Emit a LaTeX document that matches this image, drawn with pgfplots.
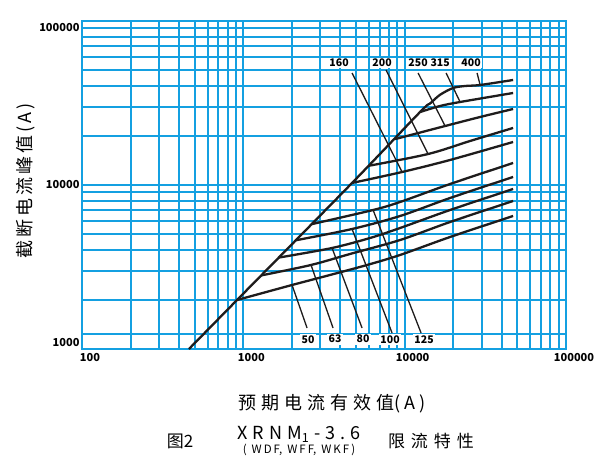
\documentclass[border=0pt]{standalone}
\usepackage{fontspec}
\setmainfont{Noto Sans CJK SC}
\usepackage{pgfplots}
\pgfplotsset{compat=1.18}
\definecolor{gridblue}{RGB}{20,160,225}
\definecolor{ink}{RGB}{30,28,28}
\begin{document}
\begin{tikzpicture}[x=1pt,y=1pt]
\path[use as bounding box] (0,0) rectangle (600,475);
\fill[white] (0,0) rectangle (600,475);
\begin{axis}[
  at={(82pt,126pt)}, anchor=south west, scale only axis,
  width=484pt, height=328pt,
  xmode=log, ymode=log,
  xmin=100, xmax=100000, ymin=1000, ymax=100000,
  xtick={100,200,300,400,500,600,700,800,900,1000,2000,3000,4000,5000,6000,7000,8000,9000,10000,20000,30000,40000,50000,60000,70000,80000,90000,100000},
  xticklabels={100,,,,,,,,,1000,,,,,,,,,10000,,,,,,,,,100000},
  ytick={1000,2000,3000,4000,5000,6000,7000,8000,9000,10000,20000,30000,40000,50000,60000,70000,80000,90000,100000},
  yticklabels={{\raisebox{2pt}[0pt][0pt]{1000}},,,,,,,,,{\raisebox{-3.6pt}[0pt][0pt]{10000}},,,,,,,,,{\raisebox{-11pt}[0pt][0pt]{100000}}},
  extra y ticks={1234}, extra y tick labels={},
  extra y tick style={grid=major, major tick length=0pt},
  xmajorgrids, ymajorgrids,
  major grid style={draw=gridblue, line width=2pt},
  major tick length=0pt, minor tick length=0pt,
  axis line style={draw=gridblue, line width=2pt},
  xticklabel style={font=\fontsize{11}{11}\selectfont\bfseries, xshift=8pt, yshift=-1pt},
  yticklabel style={font=\fontsize{11}{11}\selectfont\bfseries, xshift=1pt},
  clip=false,
  every axis plot/.append style={draw=ink, no markers},
]
% envelope / 400
\addplot[line width=2.3pt, smooth] coordinates {(460,1000) (914,1990) (4720,10290) (12460,27870) (14370,31400) (16580,35500) (19960,39040) (23690,40150) (29350,40720) (46990,43680)};
% 315
\addplot[line width=2.3pt, smooth] coordinates {(12460,27870) (16580,30330) (22060,32070) (46990,36390)};
% 250
\addplot[line width=2.3pt, smooth] coordinates {(8720,19050) (17810,22890) (29350,25980) (46990,29070)};
% 200
\addplot[line width=2.3pt, smooth] coordinates {(6000,13100) (13968,15450) (25440,18550) (46990,22270)};
% 160
\addplot[line width=2.3pt, smooth] coordinates {(4720,10290) (9636,12000) (19120,14210) (46990,18290)};
% 125
\addplot[line width=2.3pt, smooth] coordinates {(2650,5770) (6371,7040) (9366,7877) (19120,10140) (46990,13620)};
% 100
\addplot[line width=2.3pt, smooth] coordinates {(2110,4600) (4720,5391) (9366,6471) (19120,8332) (46990,11190)};
% 80
\addplot[line width=2.3pt, smooth] coordinates {(1660,3610) (3548,4129) (6103,4752) (9366,5467) (19120,7040) (46990,9454)};
% 63
\addplot[line width=2.3pt, smooth] coordinates {(1290,2810) (2628,3253) (4586,3797) (9366,4619) (19120,5948) (46990,7989)};
% 50
\addplot[line width=2.3pt, smooth] coordinates {(914,1990) (2004,2456) (3447,2827) (5848,3253) (9366,3744) (19120,4819) (46990,6471)};
% leaders
\addplot[line width=1.3pt] coordinates {(4720,48180) (9636,12000)};
\addplot[line width=1.3pt] coordinates {(7667,50250) (13968,15450)};
\addplot[line width=1.3pt] coordinates {(12110,48180) (17810,22890)};
\addplot[line width=1.3pt] coordinates {(18060,48180) (22060,32070)};
\addplot[line width=1.3pt] coordinates {(28110,48180) (29350,40720)};
\addplot[line width=1.3pt] coordinates {(2004,2456) (2483,1343)};
\addplot[line width=1.3pt] coordinates {(2628,3253) (3598,1343)};
\addplot[line width=1.3pt] coordinates {(3548,4129) (5443,1343)};
\addplot[line width=1.3pt] coordinates {(4720,5391) (8355,1252)};
\addplot[line width=1.3pt] coordinates {(6371,7040) (12640,1252)};
\tikzset{lab/.style={fill=white, inner sep=1.5pt, font=\fontsize{10.5}{10.5}\selectfont\bfseries}}
\node[lab] at (axis cs:3921,55440) {160};
\node[lab] at (axis cs:7243,55440) {200};
\node[lab] at (axis cs:12110,55440) {250};
\node[lab] at (axis cs:16580,55440) {315};
\node[lab] at (axis cs:25800,55440) {400};
\node[lab] at (axis cs:2518,1140) {50};
\node[lab] at (axis cs:3702,1150) {63};
\node[lab] at (axis cs:5522,1150) {80};
\node[lab] at (axis cs:8119,1140) {100};
\node[lab] at (axis cs:13190,1140) {125};
\end{axis}
\node[rotate=90, font=\fontsize{18}{18}\selectfont] at (26,294) {截\hspace{3pt}断\hspace{3pt}电\hspace{3pt}流\hspace{3pt}峰\hspace{3pt}值\hspace{3pt}(\hspace{3pt}A\hspace{3pt})};
\node[font=\fontsize{18}{18}\selectfont] at (332,71) {预\hspace{5pt}期\hspace{5pt}电\hspace{5pt}流\hspace{5pt}有\hspace{5pt}效\hspace{5pt}值(\hspace{4pt}A\hspace{4pt})};
\node[font=\fontsize{17}{17}\selectfont] at (180,34) {图2};
\node[font=\fontsize{18}{18}\selectfont] at (299,41) {X\hspace{5pt}R\hspace{5pt}N\hspace{5pt}M\textsubscript{1}\hspace{5pt}-\hspace{5pt}3\hspace{5pt}.\hspace{5pt}6};
\node[font=\fontsize{11.5}{11.5}\selectfont] at (299,25) {(\hspace{5pt}W\hspace{2pt}D\hspace{2pt}F,\hspace{5pt}W\hspace{2pt}F\hspace{2pt}F,\hspace{5pt}W\hspace{2pt}K\hspace{2pt}F\hspace{2pt})};
\node[font=\fontsize{17}{17}\selectfont] at (431,34) {限\hspace{6pt}流\hspace{6pt}特\hspace{6pt}性};
\end{tikzpicture}
\end{document}
